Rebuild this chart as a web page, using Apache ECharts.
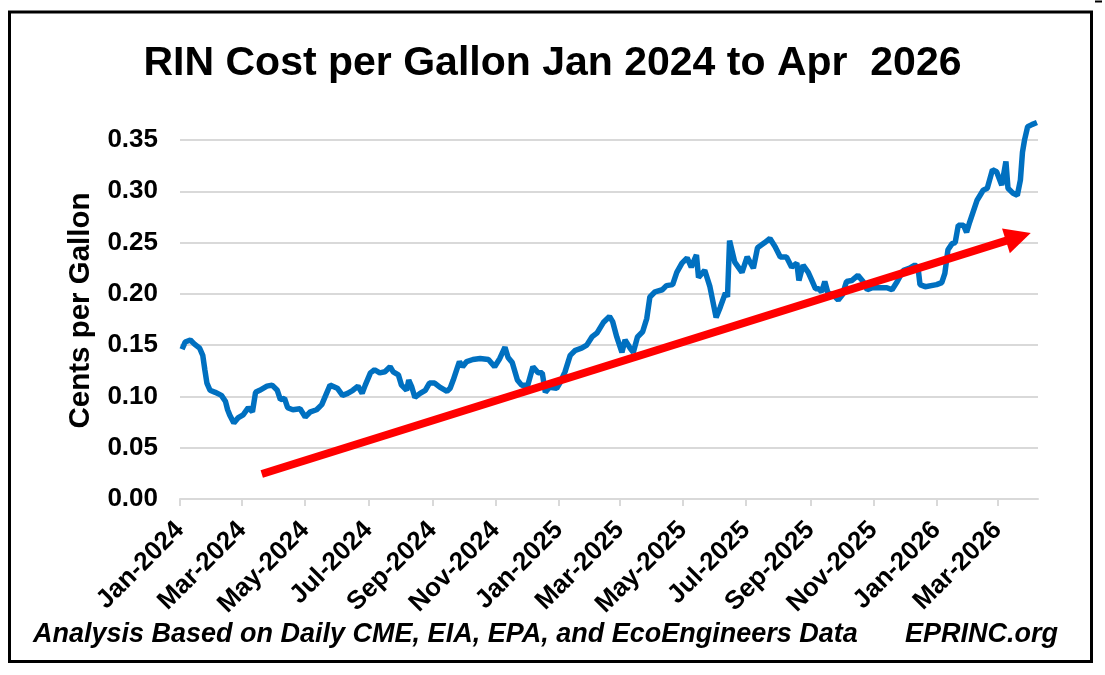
<!DOCTYPE html>
<html>
<head>
<meta charset="utf-8">
<script src="https://cdn.jsdelivr.net/npm/echarts@6/dist/echarts.min.js"></script>
<style>
html, body { margin: 0; padding: 0; background: #fff; }
#chart { width: 1105px; height: 675px; }
</style>
</head>
<body>
<div id="chart"></div>
<script>
// RIN price
var rinDates = [
    '2024-01-03', '2024-01-06', '2024-01-11', '2024-01-15', '2024-01-20', '2024-01-23', '2024-01-25', '2024-01-27', '2024-01-30',
    '2024-02-04', '2024-02-10', '2024-02-14', '2024-02-16', '2024-02-18', '2024-02-22', '2024-02-26',
    '2024-03-02', '2024-03-07', '2024-03-11', '2024-03-14', '2024-03-18', '2024-03-25', '2024-03-30',
    '2024-04-04', '2024-04-07', '2024-04-11', '2024-04-14', '2024-04-19', '2024-04-26',
    '2024-05-01', '2024-05-06', '2024-05-12', '2024-05-17', '2024-05-22', '2024-05-25',
    '2024-06-01', '2024-06-06', '2024-06-11', '2024-06-16', '2024-06-21', '2024-06-25', '2024-06-28',
    '2024-07-03', '2024-07-07', '2024-07-12', '2024-07-17', '2024-07-22', '2024-07-25', '2024-07-30',
    '2024-08-02', '2024-08-07', '2024-08-09', '2024-08-12', '2024-08-15', '2024-08-20', '2024-08-25', '2024-08-29',
    '2024-09-03', '2024-09-08', '2024-09-15', '2024-09-18', '2024-09-21', '2024-09-25', '2024-09-27', '2024-09-30',
    '2024-10-04', '2024-10-10', '2024-10-17', '2024-10-25', '2024-10-31',
    '2024-11-05', '2024-11-10', '2024-11-13', '2024-11-17', '2024-11-22', '2024-11-26',
    '2024-12-02', '2024-12-07', '2024-12-12', '2024-12-16', '2024-12-19', '2024-12-23', '2024-12-30',
    '2025-01-02', '2025-01-07', '2025-01-12', '2025-01-17', '2025-01-23', '2025-01-28',
    '2025-02-02', '2025-02-07', '2025-02-13', '2025-02-19', '2025-02-22', '2025-02-26',
    '2025-03-03', '2025-03-06', '2025-03-11', '2025-03-14', '2025-03-18', '2025-03-23', '2025-03-27', '2025-03-30',
    '2025-04-04', '2025-04-11', '2025-04-15', '2025-04-21', '2025-04-25', '2025-04-30',
    '2025-05-05', '2025-05-09', '2025-05-14', '2025-05-16', '2025-05-22', '2025-05-27',
    '2025-06-02', '2025-06-06', '2025-06-11', '2025-06-13', '2025-06-15', '2025-06-20', '2025-06-27',
    '2025-07-02', '2025-07-08', '2025-07-12', '2025-07-19', '2025-07-24', '2025-07-29',
    '2025-08-03', '2025-08-09', '2025-08-14', '2025-08-19', '2025-08-21', '2025-08-25', '2025-08-30',
    '2025-09-03', '2025-09-06', '2025-09-09', '2025-09-12', '2025-09-15', '2025-09-18', '2025-09-23', '2025-09-28',
    '2025-10-02', '2025-10-06', '2025-10-11', '2025-10-17', '2025-10-22', '2025-10-26', '2025-10-31',
    '2025-11-07', '2025-11-14', '2025-11-19', '2025-11-24', '2025-11-30',
    '2025-12-06', '2025-12-11', '2025-12-14', '2025-12-16', '2025-12-21',
    '2026-01-01', '2026-01-06', '2026-01-09', '2026-01-12', '2026-01-16', '2026-01-19', '2026-01-22', '2026-01-27', '2026-01-30',
    '2026-02-02', '2026-02-05', '2026-02-09', '2026-02-15', '2026-02-19', '2026-02-24', '2026-02-28',
    '2026-03-05', '2026-03-09', '2026-03-11', '2026-03-16', '2026-03-20', '2026-03-23', '2026-03-25', '2026-03-27', '2026-03-30',
    '2026-04-03', '2026-04-08'
];
var rinValues = [
    0.146, 0.153, 0.155, 0.151, 0.147, 0.140, 0.126, 0.113, 0.106,
    0.104, 0.101, 0.095, 0.087, 0.082, 0.074, 0.079,
    0.082, 0.089, 0.085, 0.104, 0.106, 0.110, 0.111,
    0.106, 0.097, 0.098, 0.089, 0.087, 0.088,
    0.080, 0.085, 0.087, 0.092, 0.104, 0.111,
    0.108, 0.101, 0.103, 0.106, 0.110, 0.103, 0.111,
    0.123, 0.126, 0.123, 0.124, 0.129, 0.124, 0.121,
    0.111, 0.106, 0.116, 0.109, 0.099, 0.103, 0.106, 0.113,
    0.113, 0.109, 0.105, 0.108, 0.116, 0.128, 0.134, 0.129,
    0.134, 0.136, 0.137, 0.136, 0.129,
    0.137, 0.148, 0.138, 0.133, 0.116, 0.111,
    0.111, 0.129, 0.123, 0.123, 0.104, 0.109, 0.108,
    0.113, 0.124, 0.140, 0.145, 0.147, 0.150,
    0.158, 0.162, 0.172, 0.178, 0.173, 0.158,
    0.143, 0.155, 0.147, 0.143, 0.158, 0.163, 0.176, 0.197,
    0.202, 0.204, 0.208, 0.209, 0.221, 0.230,
    0.235, 0.226, 0.238, 0.216, 0.223, 0.207,
    0.177, 0.187, 0.201, 0.197, 0.252, 0.231, 0.221,
    0.236, 0.225, 0.245, 0.250, 0.254, 0.246,
    0.236, 0.236, 0.226, 0.230, 0.213, 0.228, 0.221,
    0.212, 0.205, 0.205, 0.202, 0.212, 0.201, 0.199, 0.194,
    0.199, 0.212, 0.213, 0.218, 0.212, 0.204, 0.206,
    0.206, 0.206, 0.204, 0.212, 0.223,
    0.225, 0.228, 0.226, 0.209, 0.207,
    0.209, 0.211, 0.220, 0.243, 0.249, 0.250, 0.267, 0.267, 0.260,
    0.270, 0.279, 0.291, 0.301, 0.303, 0.321, 0.319,
    0.306, 0.329, 0.303, 0.298, 0.296, 0.311, 0.338, 0.350, 0.363,
    0.365, 0.367
];

// x axis ticks, every two months
var tickDates = ['2024-01-01', '2024-03-01', '2024-05-01', '2024-07-01', '2024-09-01', '2024-11-01',
    '2025-01-01', '2025-03-01', '2025-05-01', '2025-07-01', '2025-09-01', '2025-11-01',
    '2026-01-01', '2026-03-01'];
var tickLabels = ['Jan-2024', 'Mar-2024', 'May-2024', 'Jul-2024', 'Sep-2024', 'Nov-2024',
    'Jan-2025', 'Mar-2025', 'May-2025', 'Jul-2025', 'Sep-2025', 'Nov-2025',
    'Jan-2026', 'Mar-2026'];
var axisStart = '2024-01-01';
var axisEnd = '2026-04-09';

// red trend arrow, start and end in data units
var arrowFrom = ['2024-03-20', 0.0244];
var arrowTo = ['2026-03-21', 0.2555];

function dayNum(s) {
    var p = s.split('-');
    var a = axisStart.split('-');
    return Math.round((Date.UTC(+p[0], +p[1] - 1, +p[2]) - Date.UTC(+a[0], +a[1] - 1, +a[2])) / 86400000);
}

var seriesData = [];
for (var i = 0; i < rinDates.length; i++) {
    seriesData.push([dayNum(rinDates[i]), rinValues[i]]);
}
var tickDays = tickDates.map(dayNum);

var FONT = '"Liberation Sans", Arial, sans-serif';

var chart = echarts.init(document.getElementById('chart'), null, { renderer: 'canvas' });
var option = {
    animation: false,
    backgroundColor: '#fff',
    title: {
        text: 'RIN Cost per Gallon Jan 2024 to Apr  2026',
        left: 'center',
        top: 38,
        textStyle: {
            fontFamily: FONT,
            fontSize: 41,
            fontWeight: 'bold',
            color: '#000'
        }
    },
    grid: {
        left: 180,
        right: 67,
        top: 140,
        height: 359
    },
    xAxis: {
        type: 'value',
        min: 0,
        max: dayNum(axisEnd),
        axisLine: {
            show: true,
            lineStyle: { color: '#d9d9d9', width: 2 }
        },
        axisTick: {
            show: true,
            customValues: tickDays,
            length: 7,
            lineStyle: { color: '#d9d9d9', width: 2 }
        },
        splitLine: { show: false },
        axisLabel: {
            customValues: tickDays,
            rotate: 45,
            margin: 27,
            fontFamily: FONT,
            fontSize: 26,
            fontWeight: 'bold',
            color: '#000',
            formatter: function (v) {
                var k = tickDays.indexOf(v);
                return k >= 0 ? tickLabels[k] : '';
            }
        }
    },
    yAxis: {
        type: 'value',
        min: 0,
        max: 0.35,
        interval: 0.05,
        name: 'Cents per Gallon',
        nameLocation: 'middle',
        nameGap: 84,
        nameTextStyle: {
            fontFamily: FONT,
            fontSize: 29.5,
            fontWeight: 'bold',
            color: '#000',
            padding: [0, 0, 0, 18]
        },
        axisLine: { show: false },
        axisTick: { show: false },
        splitLine: {
            lineStyle: { color: '#d9d9d9', width: 2 }
        },
        axisLabel: {
            margin: 22,
            fontFamily: FONT,
            fontSize: 26,
            fontWeight: 'bold',
            color: '#000',
            formatter: function (v) { return v.toFixed(2); }
        }
    },
    series: [{
        type: 'line',
        data: seriesData,
        showSymbol: false,
        symbol: 'none',
        clip: false,
        lineStyle: { color: '#0070c0', width: 5.5 },
        markLine: {
            silent: true,
            symbol: ['none', 'triangle'],
            symbolSize: 26,
            label: { show: false },
            lineStyle: { color: '#ff0000', width: 8, type: 'solid' },
            emphasis: { disabled: true },
            data: [[
                { coord: [dayNum(arrowFrom[0]), arrowFrom[1]] },
                { coord: [dayNum(arrowTo[0]), arrowTo[1]] }
            ]]
        }
    }],
    graphic: [
        {
            type: 'rect',
            shape: { x: 9.5, y: 12, width: 1082, height: 649.5 },
            style: { fill: 'none', stroke: '#000', lineWidth: 3 },
            silent: true
        },
        {
            type: 'line',
            shape: { x1: 1095, y1: 1.5, x2: 1102, y2: 1.5 },
            style: { stroke: '#000', lineWidth: 2 },
            silent: true
        },
        {
            type: 'text',
            left: 33,
            top: 621,
            style: {
                text: 'Analysis Based on Daily CME, EIA, EPA, and EcoEngineers Data',
                font: 'italic bold 27px ' + FONT,
                fill: '#000'
            }
        },
        {
            type: 'text',
            left: 905,
            top: 621,
            style: {
                text: 'EPRINC.org',
                font: 'italic bold 27px ' + FONT,
                fill: '#000'
            }
        }
    ]
};
chart.setOption(option);
window.addEventListener('resize', function () {
    chart.resize();
});
</script>
</body>
</html>
